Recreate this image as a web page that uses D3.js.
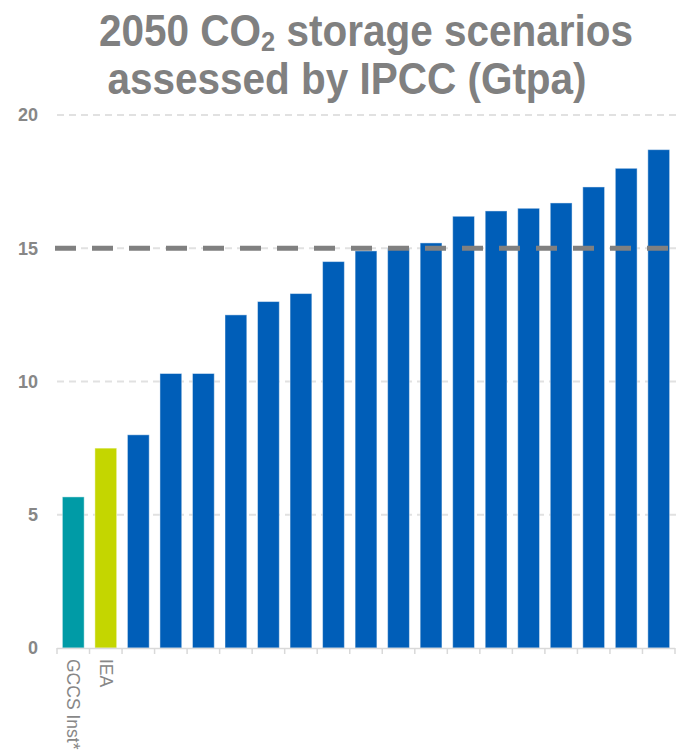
<!DOCTYPE html>
<html>
<head>
<meta charset="utf-8">
<script src="https://cdn.jsdelivr.net/npm/d3@7"></script>
<style>
  html, body { margin: 0; padding: 0; background: #fff; }
  svg { display: block; }
</style>
</head>
<body>
<svg id="chart"></svg>
<script>
const width = 676;
const height = 755;

// chart data
const categories = ["GCCS Inst*", "IEA", "s3", "s4", "s5", "s6", "s7", "s8", "s9", "s10",
  "s11", "s12", "s13", "s14", "s15", "s16", "s17", "s18", "s19"];
const shownLabels = ["GCCS Inst*", "IEA"];
const values = [5.67, 7.5, 8.0, 10.3, 10.3, 12.5, 13.0, 13.3, 14.5, 14.9,
  15.0, 15.2, 16.2, 16.4, 16.5, 16.7, 17.3, 18.0, 18.7];
const barColors = ["#009ba6", "#c4d600"]; // the rest are blue
const yTicks = [0, 5, 10, 15, 20];
const targetLine = 15;

const blue = "#005eb8";
const grey = "#878787";

const svg = d3.select("#chart")
  .attr("width", width)
  .attr("height", height);

const x = d3.scaleBand()
  .domain(categories)
  .range([57, 675])
  .paddingInner(0.33)
  .paddingOuter(0.165);

const y = d3.scaleLinear()
  .domain([0, 20])
  .range([648, 115]);

// === Title (one text, two lines, squeezed horizontally) ===
const sx = 0.91;
const title = svg.append("text")
  .attr("transform", `scale(${sx},1)`)
  .attr("fill", "#808080")
  .attr("font-family", "Liberation Sans, Arial, sans-serif")
  .attr("font-weight", "bold")
  .attr("font-size", "44.5px")
  .attr("text-anchor", "middle");

title.append("tspan").attr("x", 366 / sx).attr("y", 46).text("2050 CO");
title.append("tspan").attr("font-size", "28px").attr("dy", 5).text("2");
title.append("tspan").attr("dy", -5).text(" storage scenarios");
title.append("tspan").attr("x", 347 / sx).attr("y", 94).text("assessed by IPCC (Gtpa)");

// === Grid lines ===
svg.append("g")
  .selectAll("line")
  .data(yTicks.filter(d => d > 0))
  .join("line")
  .attr("x1", 57)
  .attr("x2", 676)
  .attr("y1", d => y(d))
  .attr("y2", d => y(d))
  .attr("stroke", "#e1e1e1")
  .attr("stroke-width", 2)
  .attr("stroke-dasharray", "7,5");

// === Y axis labels ===
const yAxis = svg.append("g")
  .attr("transform", "translate(38,0)")
  .call(d3.axisLeft(y).tickValues(yTicks).tickSize(0).tickPadding(0));
yAxis.select(".domain").remove();
yAxis.selectAll("text")
  .attr("fill", grey)
  .attr("font-family", "Liberation Sans, Arial, sans-serif")
  .attr("font-weight", "bold")
  .attr("font-size", "18px");

// === Bars ===
svg.append("g")
  .selectAll("rect")
  .data(values)
  .join("rect")
  .attr("x", (d, i) => x(categories[i]))
  .attr("width", x.bandwidth())
  .attr("y", d => y(d))
  .attr("height", d => y(0) - y(d))
  .attr("fill", (d, i) => barColors[i] || blue)
  .attr("stroke", "#ffffff")
  .attr("stroke-opacity", 0.45)
  .attr("stroke-width", 1);

// === X axis with ticks between bands ===
const xAxisG = svg.append("g")
  .attr("stroke", "#d9d9d9")
  .attr("stroke-width", 1.5);
xAxisG.append("line")
  .attr("x1", 57).attr("x2", 675)
  .attr("y1", y(0) + 0.5).attr("y2", y(0) + 0.5);
const step = x.step();
const bounds = d3.range(categories.length + 1).map(i => 57 + i * step);
xAxisG.selectAll("line.tick")
  .data(bounds)
  .join("line")
  .attr("class", "tick")
  .attr("x1", d => d).attr("x2", d => d)
  .attr("y1", y(0)).attr("y2", y(0) + 6);

// rotated category labels
svg.append("g")
  .selectAll("text")
  .data(shownLabels)
  .join("text")
  .attr("transform", d => `translate(${x(d) + x.bandwidth() / 2 - 6},659) rotate(90)`)
  .attr("fill", grey)
  .attr("font-family", "Liberation Sans, Arial, sans-serif")
  .attr("font-size", "17.5px")
  .text(d => d);

// === 15 Gtpa dashed reference line ===
svg.append("line")
  .attr("x1", 55)
  .attr("x2", 676)
  .attr("y1", y(targetLine))
  .attr("y2", y(targetLine))
  .attr("stroke", "#808080")
  .attr("stroke-width", 5)
  .attr("stroke-dasharray", "21,16");
</script>
</body>
</html>
